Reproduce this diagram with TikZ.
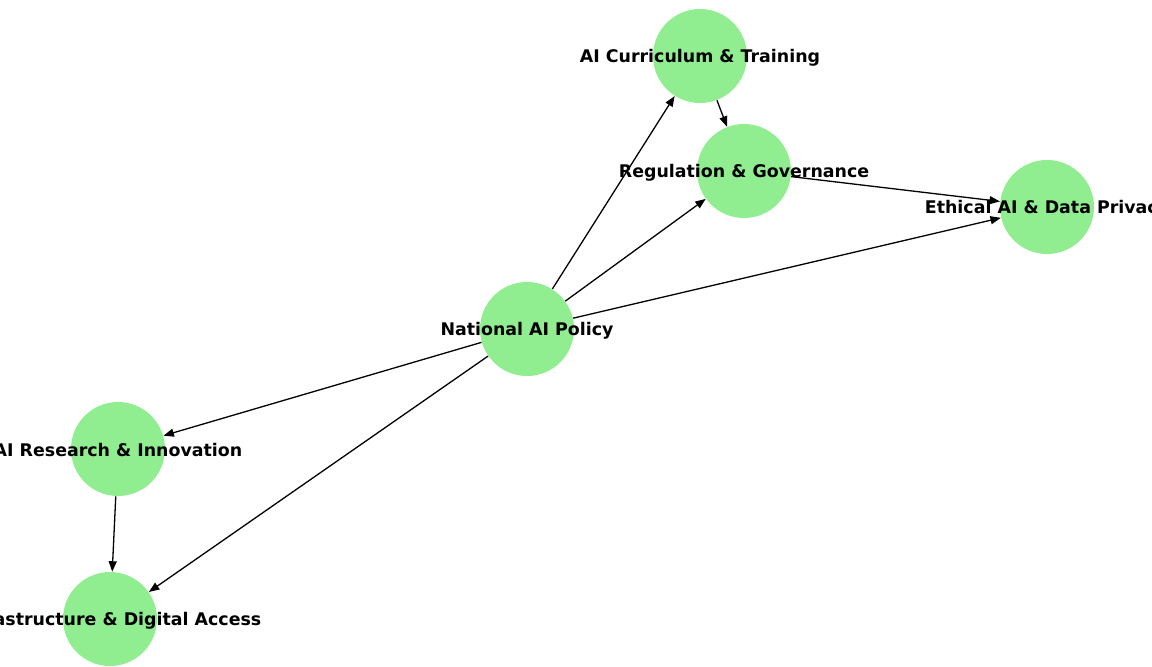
\documentclass[tikz,border=0pt]{standalone}
\usepackage{fontspec}
\setmainfont{DejaVu Sans}
\usetikzlibrary{arrows.meta}

\begin{document}
\begin{tikzpicture}[x=0.5pt,y=-0.5pt,>={Triangle[length=5.2pt,width=4pt]},
  topic/.style={circle,fill=nodegreen,minimum size=47pt,inner sep=0pt},
  lbl/.style={font=\fontsize{8.7}{10}\selectfont\bfseries,inner sep=0pt,yshift=-0.7pt},
  link/.style={->,line width=0.65pt}]
\definecolor{nodegreen}{HTML}{90EE90}
\useasboundingbox (0,0) rectangle (1152,666);
\clip (0,0) rectangle (1152,666);

\node[topic] (policy) at (527,329) {};
\node[topic] (curric) at (700,56) {};
\node[topic] (regul) at (744,171) {};
\node[topic] (ethic) at (1047,207) {};
\node[topic] (research) at (118,449) {};
\node[topic] (infra) at (110,619) {};

\draw[link] (policy) -- (curric);
\draw[link] (policy) -- (regul);
\draw[link] (policy) -- (ethic);
\draw[link] (policy) -- (research);
\draw[link] (policy) -- (infra);
\draw[link] (curric) -- (regul);
\draw[link] (regul) -- (ethic);
\draw[link] (research) -- (infra);

\node[lbl] (policyL) at (policy.center) {National AI Policy};
\node[lbl] (curricL) at (curric.center) {AI Curriculum \& Training};
\node[lbl] (regulL) at (regul.center) {Regulation \& Governance};
\node[lbl] (ethicL) at (ethic.center) {Ethical AI \& Data Privacy};
\node[lbl] (researchL) at (research.center) {AI Research \& Innovation};
\node[lbl] (infraL) at (infra.center) {Infrastructure \& Digital Access};
\end{tikzpicture}
\end{document}
